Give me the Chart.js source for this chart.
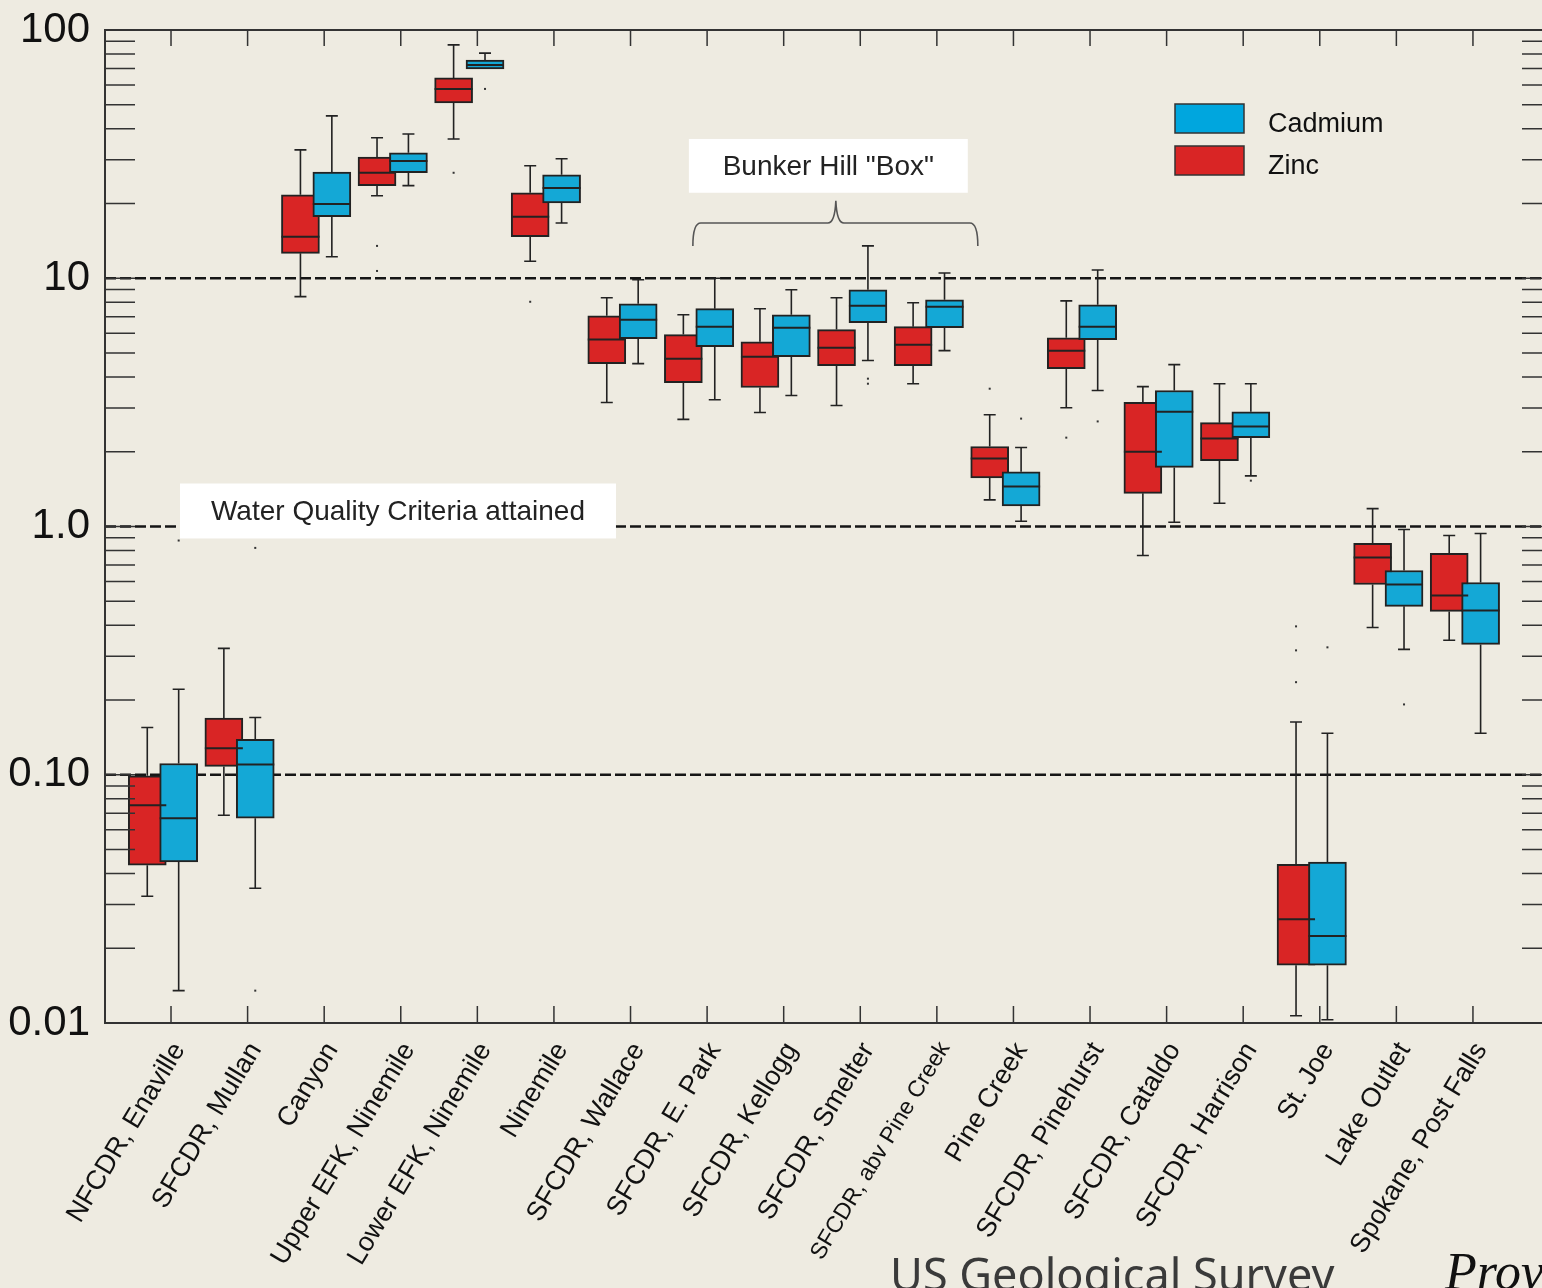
<!DOCTYPE html>
<html>
<head>
<meta charset="utf-8">
<script src="https://cdn.jsdelivr.net/npm/chart.js@4.4.1/dist/chart.umd.min.js"></script>
<style>
  html, body { margin: 0; padding: 0; background: #eeebe1; overflow: hidden; }
  #wrap { position: relative; width: 1542px; height: 1288px; overflow: hidden; }
  #chart { position: absolute; left: 0; top: 0; }
  #footer { position: absolute; left: 890px; top: 1252px; font-family: "Noto Sans", sans-serif; font-size: 45px; line-height: 44px; color: #3a3a3a; white-space: nowrap; }
  #prov { position: absolute; left: 1445px; top: 1246px; font-family: "Liberation Serif", serif; font-style: italic; font-size: 52px; line-height: 52px; color: #111; white-space: nowrap; }
</style>
</head>
<body>
<div id="wrap">
  <canvas id="chart" width="1550" height="1288" style="width:1550px;height:1288px"></canvas>
  <div id="footer">US Geological Survey</div>
  <div id="prov">Prov</div>
</div>
<script>
const sites = ['NFCDR, Enaville', 'SFCDR, Mullan', 'Canyon', 'Upper EFK, Ninemile', 'Lower EFK, Ninemile',
  'Ninemile', 'SFCDR, Wallace', 'SFCDR, E. Park', 'SFCDR, Kellogg', 'SFCDR, Smelter', 'SFCDR, abv Pine Creek',
  'Pine Creek', 'SFCDR, Pinehurst', 'SFCDR, Cataldo', 'SFCDR, Harrison', 'St. Joe', 'Lake Outlet', 'Spokane, Post Falls'];

// zinc box stats
const zincHigh = [0.155, 0.323, 32.9, 36.8, 87.1, 28.4, 8.35, 7.13, 7.54, 8.35, 7.97, 2.82, 8.11, 3.66, 3.76, 0.163, 1.18, 0.92];
const zincQ3 = [0.099, 0.169, 21.7, 30.8, 64.1, 22.1, 7.06, 5.93, 5.55, 6.21, 6.38, 2.10, 5.76, 3.16, 2.62, 0.0436, 0.855, 0.779];
const zincMedian = [0.0754, 0.128, 14.7, 26.6, 57.9, 17.7, 5.66, 4.74, 4.83, 5.25, 5.40, 1.88, 5.11, 2.00, 2.26, 0.0262, 0.750, 0.527];
const zincQ1 = [0.0432, 0.108, 12.6, 23.6, 50.9, 14.7, 4.53, 3.80, 3.63, 4.44, 4.44, 1.57, 4.32, 1.36, 1.84, 0.0171, 0.584, 0.455];
const zincLow = [0.0324, 0.0687, 8.43, 21.5, 36.4, 11.7, 3.16, 2.70, 2.88, 3.07, 3.76, 1.28, 3.01, 0.764, 1.24, 0.0107, 0.392, 0.348];
const zincOutliers = [[], [], [], [13.5, 10.7], [26.6], [8.04], [], [], [], [], [], [3.59], [2.28], [], [], [0.396, 0.317, 0.236], [], []];

// cadmium box stats
const cadHigh = [0.221, 0.170, 45.1, 38.1, 80.7, 30.3, 9.86, 10.0, 8.99, 13.5, 10.5, 2.08, 10.8, 4.49, 3.76, 0.147, 0.973, 0.937];
const cadQ3 = [0.111, 0.139, 26.8, 32.0, 75.7, 26.1, 7.89, 7.54, 7.13, 8.99, 8.19, 1.66, 7.82, 3.53, 2.90, 0.0445, 0.665, 0.595];
const cadMedian = [0.0668, 0.110, 19.9, 29.7, 72.3, 23.1, 6.81, 6.38, 6.32, 7.75, 7.68, 1.45, 6.38, 2.90, 2.53, 0.0224, 0.584, 0.459];
const cadQ1 = [0.0445, 0.0668, 17.7, 26.6, 69.7, 20.1, 5.71, 5.30, 4.83, 6.62, 6.32, 1.21, 5.66, 1.73, 2.28, 0.0171, 0.477, 0.335];
const cadLow = [0.0135, 0.0349, 12.2, 23.6, 69.7, 16.7, 4.53, 3.24, 3.37, 4.66, 5.11, 1.05, 3.53, 1.04, 1.60, 0.0103, 0.320, 0.147];
const cadOutliers = [[0.878], [0.82, 0.0135], [], [], [57.9], [], [], [], [], [3.94, 3.76], [], [2.72], [2.65], [], [1.53], [0.326], [0.192], []];

const decades = [0.01, 0.1, 1, 10];
const yTickLabels = { 0.01: '0.01', 0.1: '0.10', 1: '1.0', 10: '10', 100: '100' };
const criteriaLines = [10, 1, 0.1];

var yTickValues = [];
decades.forEach(d => {
    for (let k = 1; k <= 9; k++) yTickValues.push(+(d * k).toPrecision(3));
});
yTickValues.push(100);

const stats = {
    Zinc: { high: zincHigh, q3: zincQ3, med: zincMedian, q1: zincQ1, low: zincLow, out: zincOutliers, swatch: '#d92525' },
    Cadmium: { high: cadHigh, q3: cadQ3, med: cadMedian, q1: cadQ1, low: cadLow, out: cadOutliers, swatch: '#00a6de' }
};

const zincShift = -0.31;
const cadShift = 0.1;

function boxData(q1, q3, shift) {
    return sites.map((s, i) => ({ x: i + shift, y: [q1[i], q3[i]] }));
}

const boxExtras = {
    id: 'boxExtras',
    beforeDatasetsDraw(chart) {
        const { ctx, chartArea: a, scales: { x, y } } = chart;
        ctx.save();
        // dashed criteria lines
        ctx.strokeStyle = '#151515';
        ctx.lineWidth = 2.5;
        ctx.setLineDash([11, 4]);
        criteriaLines.forEach(v => {
            const py = y.getPixelForValue(v);
            ctx.beginPath();
            ctx.moveTo(a.left, py);
            ctx.lineTo(a.right, py);
            ctx.stroke();
        });
        ctx.setLineDash([]);
        // whiskers
        ctx.strokeStyle = '#222';
        ctx.lineWidth = 1.6;
        chart.data.datasets.forEach((ds, di) => {
            const st = stats[ds.label];
            chart.getDatasetMeta(di).data.forEach((bar, i) => {
                const cx = bar.x;
                [[st.q3[i], st.high[i]], [st.q1[i], st.low[i]]].forEach(([from, to]) => {
                    const y0 = y.getPixelForValue(from), y1 = y.getPixelForValue(to);
                    if (Math.abs(y1 - y0) < 1) return;
                    ctx.beginPath();
                    ctx.moveTo(cx, y0);
                    ctx.lineTo(cx, y1);
                    ctx.moveTo(cx - 6, y1);
                    ctx.lineTo(cx + 6, y1);
                    ctx.stroke();
                });
            });
        });
        ctx.restore();
    },
    afterDatasetsDraw(chart) {
        const { ctx, chartArea: a, scales: { x, y } } = chart;
        ctx.save();
        // medians and outliers
        chart.data.datasets.forEach((ds, di) => {
            const st = stats[ds.label];
            chart.getDatasetMeta(di).data.forEach((bar, i) => {
                const { x: cx, width } = bar.getProps(['x', 'width'], true);
                const my = y.getPixelForValue(st.med[i]);
                ctx.strokeStyle = '#222';
                ctx.lineWidth = 2;
                ctx.beginPath();
                ctx.moveTo(cx - width / 2, my);
                ctx.lineTo(cx + width / 2, my);
                ctx.stroke();
                ctx.fillStyle = '#333';
                st.out[i].forEach(v => {
                    ctx.fillRect(cx - 1, y.getPixelForValue(v) - 1, 2, 2);
                });
            });
        });

        // annotation boxes
        ctx.font = '28px "Liberation Sans", Arial, sans-serif';
        ctx.textAlign = 'center';
        ctx.textBaseline = 'middle';
        const note = (x0, x1, yTop, yBot, text) => {
            const l = x.getPixelForValue(x0), r = x.getPixelForValue(x1);
            const t = y.getPixelForValue(yTop), b = y.getPixelForValue(yBot);
            ctx.fillStyle = '#ffffff';
            ctx.fillRect(l, t, r - l, b - t);
            ctx.fillStyle = '#222';
            ctx.fillText(text, (l + r) / 2, (t + b) / 2 + 1);
        };
        note(0.117, 5.81, 1.49, 0.895, 'Water Quality Criteria attained');
        note(6.762, 10.404, 36.4, 22.1, 'Bunker Hill "Box"');

        // curly brace
        const bl = x.getPixelForValue(6.814), br = x.getPixelForValue(10.535), bm = x.getPixelForValue(8.681);
        const yEnd = y.getPixelForValue(13.5), yLine = y.getPixelForValue(16.7), yPeak = y.getPixelForValue(20.5);
        ctx.strokeStyle = '#555';
        ctx.lineWidth = 1.6;
        ctx.beginPath();
        ctx.moveTo(bl, yEnd);
        ctx.quadraticCurveTo(bl, yLine, bl + 8, yLine);
        ctx.lineTo(bm - 8, yLine);
        ctx.quadraticCurveTo(bm - 1, yLine, bm, yPeak);
        ctx.quadraticCurveTo(bm + 1, yLine, bm + 8, yLine);
        ctx.lineTo(br - 8, yLine);
        ctx.quadraticCurveTo(br, yLine, br, yEnd);
        ctx.stroke();

        // frame
        ctx.strokeStyle = '#333';
        ctx.lineWidth = 2;
        ctx.strokeRect(a.left, a.top, a.right - a.left, a.bottom - a.top);

        // category ticks on top and bottom
        ctx.lineWidth = 1.5;
        x.ticks.forEach(t => {
            const px = x.getPixelForValue(t.value);
            ctx.beginPath();
            ctx.moveTo(px, a.top);
            ctx.lineTo(px, a.top + 16);
            ctx.moveTo(px, a.bottom);
            ctx.lineTo(px, a.bottom - 17);
            ctx.stroke();
        });
        // log ticks inside left and right
        y.ticks.forEach(t => {
            const py = y.getPixelForValue(t.value);
            ctx.beginPath();
            ctx.moveTo(a.left, py);
            ctx.lineTo(a.left + 30, py);
            ctx.moveTo(a.right - 26, py);
            ctx.lineTo(a.right, py);
            ctx.stroke();
        });

        // legend
        ctx.font = '27px "Liberation Sans", Arial, sans-serif';
        ctx.textAlign = 'left';
        ctx.textBaseline = 'middle';
        ['Cadmium', 'Zinc'].forEach((name, k) => {
            const top = 104 + k * 42;
            ctx.fillStyle = stats[name].swatch;
            ctx.fillRect(1175, top, 69, 29);
            ctx.strokeStyle = '#333';
            ctx.lineWidth = 1.5;
            ctx.strokeRect(1175, top, 69, 29);
            ctx.fillStyle = '#111';
            ctx.fillText(name, 1268, top + 21);
        });
        ctx.restore();
    }
};

const ctx = document.getElementById('chart');

const config = {
    type: 'bar',
    data: {
        datasets: [{
                label: 'Cadmium',
                data: boxData(cadQ1, cadQ3, cadShift),
                backgroundColor: '#14a8d6',
                borderColor: '#222',
                borderWidth: 2,
                borderSkipped: false,
                barThickness: 38,
                grouped: false
            },
            {
                label: 'Zinc',
                data: boxData(zincQ1, zincQ3, zincShift),
                backgroundColor: '#d92525',
                borderColor: '#222',
                borderWidth: 2,
                borderSkipped: false,
                barThickness: 38,
                grouped: false
            }
        ]
    },
    options: {
        responsive: false,
        animation: false,
        layout: {
            padding: { top: 30, right: 2, left: 0, bottom: 0 }
        },
        plugins: {
            legend: { display: false },
            tooltip: { enabled: false }
        },
        scales: {
            x: {
                type: 'linear',
                offset: false,
                min: -0.862,
                max: 17.98,
                grid: { display: false, drawTicks: false },
                border: { display: false },
                afterBuildTicks: scale => {
                    scale.ticks = sites.map((s, i) => ({ value: i }));
                },
                afterFit: scale => {
                    scale.height = 265;
                    scale.paddingLeft = 0;
                    scale.paddingRight = 0;
                },
                ticks: {
                    autoSkip: false,
                    minRotation: 59,
                    maxRotation: 59,
                    padding: 14,
                    labelOffset: 8,
                    color: '#111',
                    font: ctx => ({
                        family: '"Liberation Sans", Arial, sans-serif',
                        size: sites[ctx.index] && sites[ctx.index].length > 19 ? 23 : 27
                    }),
                    callback: value => sites[value]
                }
            },
            y: {
                type: 'logarithmic',
                min: 0.01,
                max: 100,
                grid: { display: false, drawTicks: false },
                border: { display: false },
                afterBuildTicks: scale => {
                    scale.ticks = yTickValues.map(v => ({ value: v }));
                },
                afterFit: scale => {
                    scale.width = 105;
                    scale.paddingTop = 0;
                    scale.paddingBottom = 0;
                },
                ticks: {
                    autoSkip: false,
                    padding: 15,
                    color: '#111',
                    font: { family: '"Liberation Sans", Arial, sans-serif', size: 42 },
                    callback: value => yTickLabels[value] || ''
                }
            }
        }
    },
    plugins: [boxExtras]
};

var chart = new Chart(ctx, config);
</script>
</body>
</html>
